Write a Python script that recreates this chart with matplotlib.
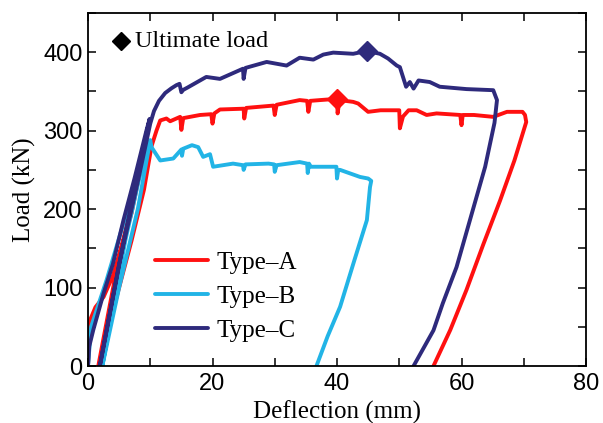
import matplotlib
matplotlib.use("Agg")
import matplotlib.pyplot as plt

# ---- data ----
a_x = [0, 0.3, 1.2, 2.5, 4.0, 5.7, 7.0, 8.3, 5.0, 1.65, 4.0, 7.0, 9.0, 10.2, 11.0, 11.6, 12.6, 13.2, 14.8, 15.0, 15.3,
       18.0, 19.8, 20.0, 20.3, 21.2, 25.0, 25.1, 25.4, 29.8, 30.0, 30.3, 34.0, 35.2, 35.4, 35.7, 37.3, 39.0,
       40.0, 40.1, 40.4, 42.6, 43.4, 45.0, 47.0, 50.0, 50.1, 50.6, 51.5, 52.8, 54.4, 56.0, 59.8, 60.0, 60.2,
       62.0, 65.1, 67.3, 69.8, 70.2, 70.4, 68.5, 66.2, 63.5, 60.8, 58.2, 55.5]
a_y = [0, 58, 75, 88, 115, 160, 195, 245, 140, 0, 70, 160, 225, 280, 300, 313, 315.5, 312, 317.6, 301, 316,
       320, 321, 309, 322, 327, 328, 315.5, 329, 332, 320, 333, 339, 338, 324, 338, 339, 340,
       341, 322, 339, 336.7, 334.6, 324, 326, 326, 303, 318, 326, 326, 320, 322, 320, 307, 320,
       320, 317.6, 324, 324, 320, 311, 262, 211, 155, 97, 46, 0]

b_x = [0, 0.5, 3.0, 6.0, 9.5, 6.0, 2.3, 5.0, 8.0, 10.0, 10.2, 11.6, 13.7, 15.0, 15.1, 15.3, 16.7, 17.7, 18.5,
       19.6, 20.1, 23.3, 24.9, 25.0, 25.3, 29.0, 29.9, 30.0, 30.3, 34.0, 35.2, 35.3, 35.5, 35.8, 38.9,
       39.9, 40.0, 40.2, 40.5, 43.7, 45.0, 45.5, 45.3, 44.8, 42.8, 40.5, 38.5, 36.7]
b_y = [0, 50, 110, 190, 285, 160, 0, 100, 200, 288, 279, 262, 264.5, 276, 268, 277, 281.5, 279, 266.6,
       270, 254, 258, 256, 250, 257, 258, 257, 247.5, 256, 260, 258, 246, 258, 254, 254,
       254, 239, 250, 250, 241, 239, 236, 228, 186, 135, 75.5, 38, 0]

c_x = [0, 0.2, 0.85, 2.5, 4.0, 5.7, 7.5, 9.4, 9.9, 6.0, 1.9, 5.0, 8.0, 10.0, 10.6, 11.4, 12.4, 13.4, 14.2, 14.7, 15.0,
       15.3, 16.0, 19.0, 21.2, 24.9, 25.0, 25.3, 28.7, 31.9, 34.0, 36.2, 37.8, 39.4, 42.6, 44.8, 46.9, 48.2,
       49.6, 50.1, 51.1, 51.7, 52.3, 53.1, 54.9, 56.5, 60.8, 65.1, 65.7, 65.3, 63.8, 61.5, 59.2, 57.0, 55.5, 52.3]
c_y = [0, 25, 46, 92.6, 130, 186, 240, 300.6, 315, 170, 0, 130, 235, 309, 325, 338, 348, 354, 358, 359.7, 349,
       352, 355, 368.5, 366, 379, 366, 380, 387.6, 383, 393, 390.6, 397, 399.5, 398, 401.6, 398, 392,
       383, 381, 356, 362, 353.6, 364, 362, 356, 353, 351.6, 339, 310, 254, 190, 126, 80, 45.5, 0]

series_labels = ["Type\u2013A", "Type\u2013B", "Type\u2013C"]
colors = ["#FF1010", "#22B4E6", "#2E2A7C"]

ult_x = [40.0, 44.8]
ult_y = [341, 401.6]

xticks = [0, 20, 40, 60, 80]
yticks = [0, 100, 200, 300, 400]

# ---- plot ----
fig = plt.figure(figsize=(6.03, 4.23), dpi=100)
ax = fig.add_axes([88 / 603, 1 - 366 / 423, 498 / 603, 353 / 423])

serif = ["Liberation Serif", "DejaVu Serif"]
sans = ["Liberation Sans", "DejaVu Sans"]

lw = 2.8
for xs, ys, lab, col in zip([a_x, b_x, c_x], [a_y, b_y, c_y], series_labels, colors):
    ax.plot(xs, ys, color=col, lw=lw, label=lab, solid_joinstyle="round", solid_capstyle="round")

ax.plot(ult_x[0], ult_y[0], marker="D", color=colors[0], ms=10, ls="none")
ax.plot(ult_x[1], ult_y[1], marker="D", color=colors[2], ms=10, ls="none")

# Ultimate load annotation
ax.plot([5.3], [414], marker="D", color="black", ms=9, ls="none")
ax.text(7.6, 414, "Ultimate load", family=serif, fontsize=17.5, va="center", ha="left")

ax.set_xlim(0, 80)
ax.set_ylim(0, 450)
ax.set_xticks(xticks)
ax.set_yticks(yticks)
ax.set_xticks(range(0, 81, 10), minor=True)
ax.set_yticks(range(0, 451, 50), minor=True)
ax.tick_params(which="both", direction="in", top=True, right=True, length=6, width=1.1)
for lab in ax.get_xticklabels() + ax.get_yticklabels():
    lab.set_family(sans)
    lab.set_fontsize(17)
ax.tick_params(axis="x", pad=5)
ax.tick_params(axis="y", pad=4)
for s in ax.spines.values():
    s.set_linewidth(1.3)

ax.set_xlabel("Deflection (mm)", family=serif, fontsize=18, labelpad=4)
ax.set_ylabel("Load (kN)", family=serif, fontsize=18, labelpad=5)

leg = ax.legend(loc="upper left", bbox_to_anchor=((155 - 88) / 498, 0.325), frameon=False,
                borderpad=0, borderaxespad=0,
                prop={"family": serif, "size": 18}, handlelength=2.1, handletextpad=0.36,
                labelspacing=0.46)

fig.savefig("out.png", dpi=100)
